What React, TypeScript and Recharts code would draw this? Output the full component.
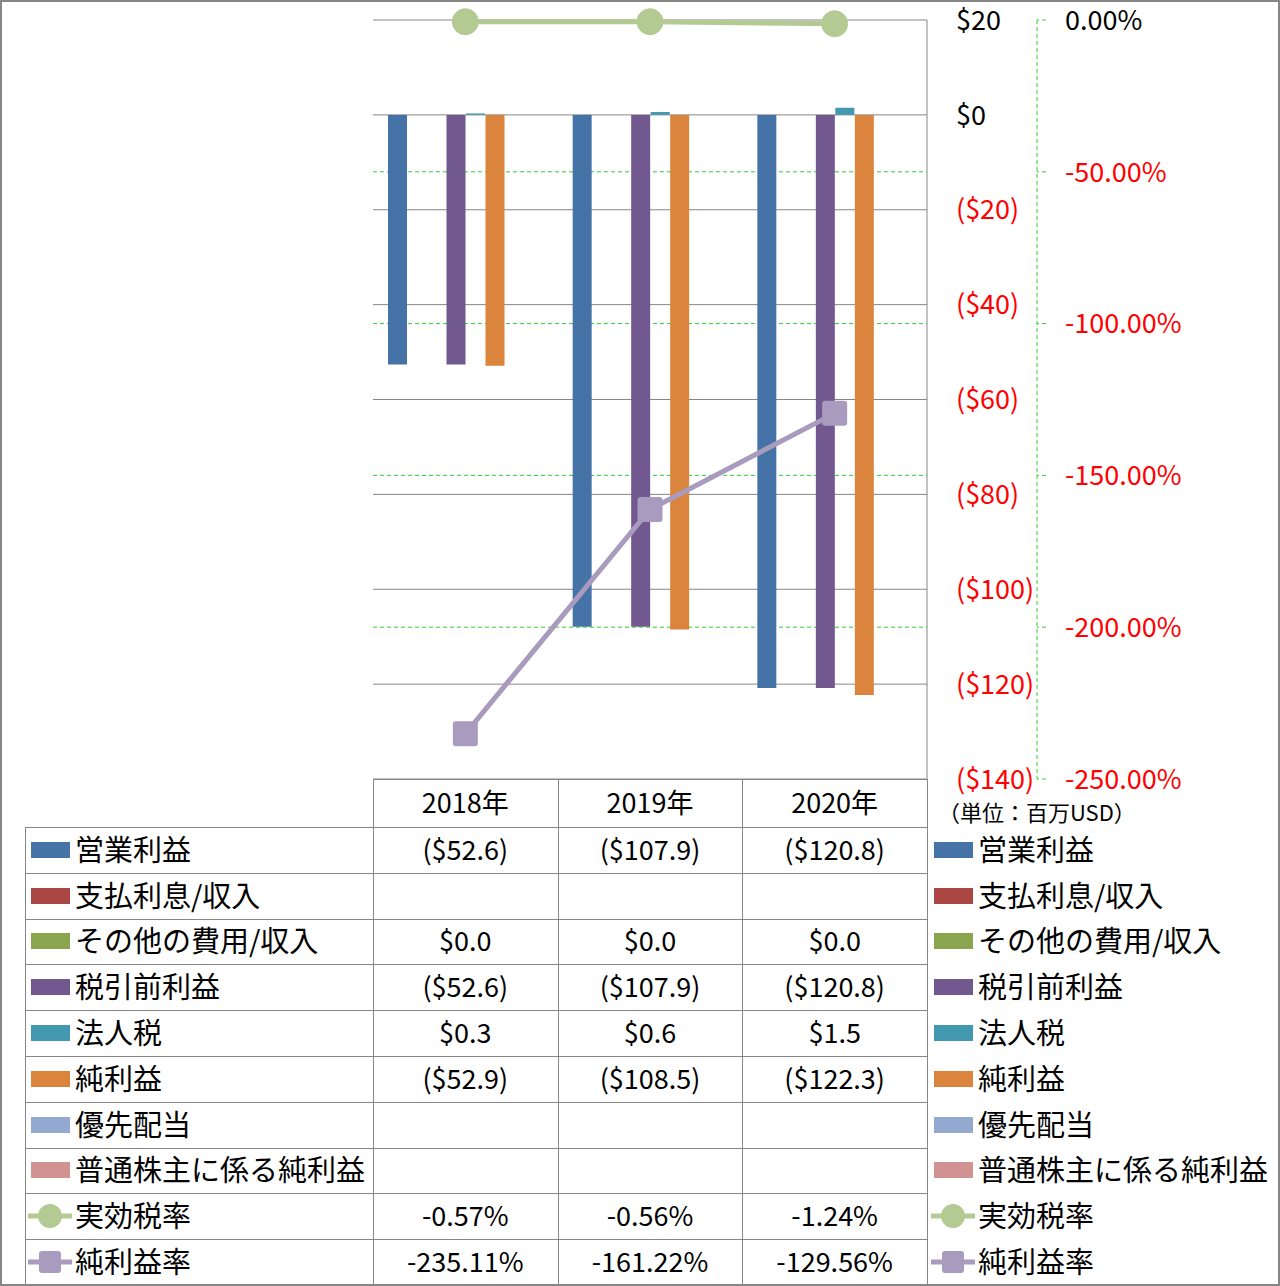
import { ComposedChart, Bar, Line, XAxis, YAxis, CartesianGrid } from 'recharts';

const years = ['2018年', '2019年', '2020年'];
const operatingIncome = [-52.6, -107.9, -120.8];
const interestIncome: (number | null)[] = [null, null, null];
const otherIncome = [0.0, 0.0, 0.0];
const pretaxIncome = [-52.6, -107.9, -120.8];
const incomeTax = [0.3, 0.6, 1.5];
const netIncome = [-52.9, -108.5, -122.3];
const preferredDividends: (number | null)[] = [null, null, null];
const commonNetIncome: (number | null)[] = [null, null, null];
const effectiveTaxRate = [-0.57, -0.56, -1.24];
const netMargin = [-235.11, -161.22, -129.56];

const usdTicks = [20, 0, -20, -40, -60, -80, -100, -120, -140];
const pctTicks = [0, -50, -100, -150, -200, -250];
const pctGridValues = [-50, -100, -150, -200];

const barSeries = [
  { key: 'op', name: '営業利益', color: '#4572A7', values: operatingIncome },
  { key: 'interest', name: '支払利息/収入', color: '#AA4643', values: interestIncome },
  { key: 'other', name: 'その他の費用/収入', color: '#89A54E', values: otherIncome },
  { key: 'pretax', name: '税引前利益', color: '#71588F', values: pretaxIncome },
  { key: 'tax', name: '法人税', color: '#4198AF', values: incomeTax },
  { key: 'net', name: '純利益', color: '#DB843D', values: netIncome },
  { key: 'pref', name: '優先配当', color: '#93A9CF', values: preferredDividends },
  { key: 'common', name: '普通株主に係る純利益', color: '#D19392', values: commonNetIncome },
];

const lineSeries = [
  { key: 'etr', name: '実効税率', color: '#B3CA92', values: effectiveTaxRate, shape: 'circle' },
  { key: 'npm', name: '純利益率', color: '#A99BBD', values: netMargin, shape: 'square' },
];

const data = years.map((year, i) => {
  const row: Record<string, string | number | null> = { year };
  barSeries.forEach((s) => (row[s.key] = s.values[i]));
  lineSeries.forEach((s) => (row[s.key] = s.values[i]));
  return row;
});

const FONT = "'Noto Sans CJK JP', 'Noto Sans', sans-serif";
const GRID = '#868686';
const GREEN = '#2fd02f';
const NUM_SIZE = 27;
// recharts lays out same-side axes by id, so "a" sits next to the plot
const USD_AXIS = 'a-usd';
const PCT_AXIS = 'b-pct';

const fmtUsd = (v: number | null) => {
  if (v === null || v === undefined) return '';
  return v < 0 ? `($${Math.abs(v).toFixed(1)})` : `$${v.toFixed(1)}`;
};
const fmtPct = (v: number) => `${v.toFixed(2)}%`;

const UsdTick = (props: any) => {
  const v = props.payload.value;
  const label = v < 0 ? `($${Math.abs(v)})` : `$${v}`;
  return (
    <text x={props.x} y={props.y} dy="0.36em" textAnchor="start" fontSize={NUM_SIZE} fontFamily={FONT} fill={v < 0 ? '#ff0000' : '#000'}>
      {label}
    </text>
  );
};

const PctTick = (props: any) => {
  const v = props.payload.value;
  return (
    <text x={props.x} y={props.y} dy="0.36em" textAnchor="start" fontSize={NUM_SIZE} fontFamily={FONT} fill={v < 0 ? '#ff0000' : '#000'}>
      {fmtPct(v)}
    </text>
  );
};

const circleDot = (color: string) => (p: any) =>
  <circle key={`c${p.index}`} cx={p.cx} cy={p.cy} r={13} fill={color} stroke={color} strokeWidth={1} />;

const squareDot = (color: string) => (p: any) =>
  <rect key={`s${p.index}`} x={p.cx - 12.5} y={p.cy - 12.5} width={25} height={25} rx={3} fill={color} />;

const TABLE_LEFT = 25;
const COL_X = [373, 557.7, 742.3, 927];
const HEAD_TOP = 779;
const ROW_TOP = 827;
const ROW_H = 45.8;

const tableRows = [
  ...barSeries.map((s) => ({ name: s.name, color: s.color, kind: 'bar', cells: s.values.map(fmtUsd) })),
  ...lineSeries.map((s) => ({ name: s.name, color: s.color, kind: s.shape, cells: s.values.map(fmtPct) })),
];

function LegendKey({ kind, color }: { kind: string; color: string }) {
  if (kind === 'bar') {
    return <div style={{ width: 39, height: 16, background: color }} />;
  }
  return (
    <svg width={44} height={28} style={{ display: 'block' }}>
      <line x1={0} y1={14} x2={44} y2={14} stroke={color} strokeWidth={5} strokeLinecap="round" />
      {kind === 'circle' ? (
        <circle cx={22} cy={14} r={12} fill={color} />
      ) : (
        <rect x={11} y={3} width={22} height={22} rx={3} fill={color} />
      )}
    </svg>
  );
}

const cellText = { display: 'flex', alignItems: 'center', lineHeight: 1, whiteSpace: 'nowrap', paddingBottom: 3, boxSizing: 'border-box' } as const;

export default function App() {
  const line = (x: number, y: number, w: number, h: number, k: string) => (
    <div key={k} style={{ position: 'absolute', left: x, top: y, width: w, height: h, background: GRID }} />
  );

  const gridLines: any[] = [];
  gridLines.push(line(COL_X[0], HEAD_TOP, COL_X[3] - COL_X[0], 1, 'h-head'));
  for (let i = 0; i <= tableRows.length; i++) {
    gridLines.push(line(TABLE_LEFT, Math.round(ROW_TOP + i * ROW_H), COL_X[3] - TABLE_LEFT, 1, `h${i}`));
  }
  gridLines.push(line(TABLE_LEFT, ROW_TOP, 1, ROW_H * tableRows.length, 'v-left'));
  COL_X.forEach((x, i) => gridLines.push(line(Math.round(x), HEAD_TOP, 1, 1285 - HEAD_TOP, `v${i}`)));

  return (
    <div style={{ position: 'absolute', left: 0, top: 0, width: 1280, height: 1286, background: '#fff', fontFamily: FONT, color: '#000', overflow: 'hidden' }}>
      <div style={{ position: 'absolute', left: 0, top: 0 }}>
        <ComposedChart width={1280} height={800} data={data} margin={{ top: 20, right: 0, bottom: 21, left: 373 }} barGap={0.5}>
          <XAxis dataKey="year" hide />
          <YAxis
            yAxisId={USD_AXIS}
            orientation="right"
            type="number"
            width={110}
            domain={[-140, 20]}
            ticks={usdTicks}
            interval={0}
            axisLine={{ stroke: GRID, strokeWidth: 1 }}
            tickLine={false}
            tickSize={0}
            tickMargin={29}
            tick={<UsdTick />}
          />
          <YAxis
            yAxisId={PCT_AXIS}
            orientation="right"
            type="number"
            width={243}
            domain={[-250, 0]}
            ticks={pctTicks}
            interval={0}
            axisLine={{ stroke: GREEN, strokeDasharray: '4 3' }}
            tickLine={{ stroke: GREEN, strokeDasharray: '4 3' }}
            tickSize={9}
            tickMargin={19}
            tick={<PctTick />}
          />
          <CartesianGrid yAxisId={USD_AXIS} vertical={false} stroke={GRID} />
          <CartesianGrid yAxisId={PCT_AXIS} vertical={false} stroke={GREEN} strokeDasharray="4 3" horizontalValues={pctGridValues} />
          {barSeries.map((s) => (
            <Bar key={s.key} yAxisId={USD_AXIS} dataKey={s.key} name={s.name} fill={s.color} barSize={19} isAnimationActive={false} />
          ))}
          {lineSeries.map((s) => (
            <Line
              key={s.key}
              yAxisId={PCT_AXIS}
              type="linear"
              dataKey={s.key}
              name={s.name}
              stroke={s.color}
              strokeWidth={5}
              dot={s.shape === 'circle' ? circleDot(s.color) : squareDot(s.color)}
              activeDot={false}
              isAnimationActive={false}
            />
          ))}
        </ComposedChart>
      </div>

      {gridLines}

      {years.map((y, i) => (
        <div key={y} style={{ ...cellText, position: 'absolute', left: COL_X[i], top: HEAD_TOP, width: COL_X[i + 1] - COL_X[i], height: ROW_TOP - HEAD_TOP, justifyContent: 'center', fontSize: NUM_SIZE }}>
          {y}
        </div>
      ))}

      <div style={{ position: 'absolute', left: 938, top: 797, fontSize: 22, lineHeight: '28px', whiteSpace: 'nowrap' }}>（単位：百万USD）</div>

      {tableRows.map((r, i) => {
        const top = ROW_TOP + i * ROW_H;
        return (
          <div key={r.name}>
            <div style={{ position: 'absolute', left: r.kind === 'bar' ? 31 : 28, top, height: ROW_H, display: 'flex', alignItems: 'center' }}>
              <LegendKey kind={r.kind} color={r.color} />
            </div>
            <div style={{ ...cellText, position: 'absolute', left: 75, top, height: ROW_H, fontSize: 29 }}>{r.name}</div>
            {r.cells.map((c, j) => (
              <div key={j} style={{ ...cellText, position: 'absolute', left: COL_X[j], top, width: COL_X[j + 1] - COL_X[j], height: ROW_H, justifyContent: 'center', fontSize: NUM_SIZE }}>
                {c}
              </div>
            ))}
            <div style={{ position: 'absolute', left: r.kind === 'bar' ? 934 : 931, top, height: ROW_H, display: 'flex', alignItems: 'center' }}>
              <LegendKey kind={r.kind} color={r.color} />
            </div>
            <div style={{ ...cellText, position: 'absolute', left: 978, top, height: ROW_H, fontSize: 29 }}>{r.name}</div>
          </div>
        );
      })}

      <div style={{ position: 'absolute', left: 0, top: 0, width: 1280, height: 1286, boxSizing: 'border-box', border: `2px solid ${GRID}`, pointerEvents: 'none' }} />
    </div>
  );
}
